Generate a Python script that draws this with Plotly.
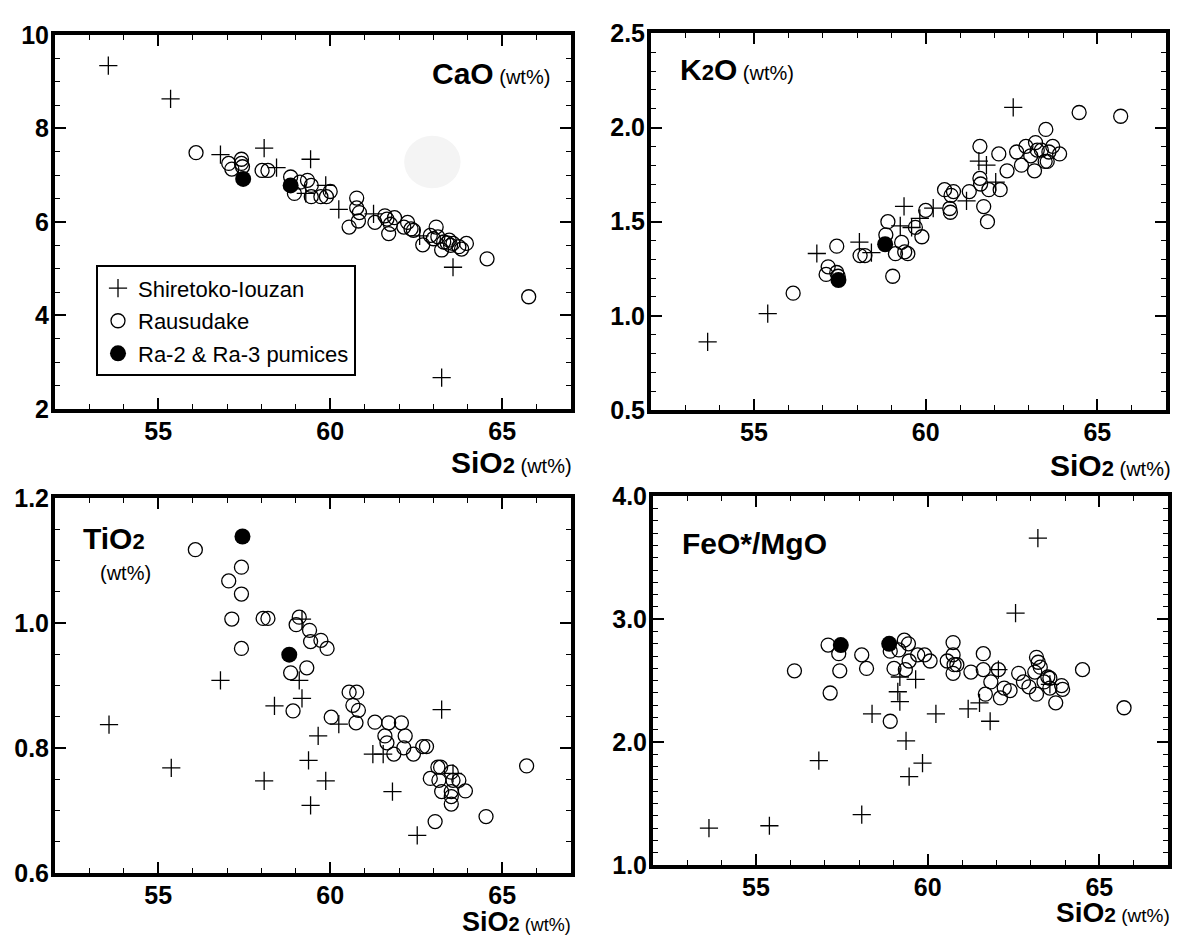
import plotly.graph_objects as go

FONT = "Liberation Sans, Arial, Helvetica, sans-serif"
W, H = 1187, 947

# ---------------- CaO panel ----------------
cao_shi_x = [53.55, 55.36, 56.81, 58.08, 58.44, 59.29, 59.43, 59.87, 60.25, 61.26,
             62.60, 63.57, 63.24]
cao_shi_y = [9.34, 8.63, 7.44, 7.58, 7.16, 6.61, 7.34, 6.78, 6.27, 6.17,
             5.70, 5.03, 2.67]
cao_rau_x = [56.10, 57.05, 57.14, 57.42, 57.42, 57.45, 58.02, 58.19, 58.85, 58.96,
             59.12, 59.34, 59.45, 59.45, 59.73, 59.89, 60.00, 60.77, 60.77, 60.82,
             60.55, 61.30, 61.59, 61.65, 61.70, 61.87, 62.14, 62.25, 62.42, 62.69,
             62.91, 63.08, 63.13, 63.24, 63.30, 63.46, 63.57, 63.74, 63.96, 63.40,
             63.50, 64.56, 65.77, 60.85, 61.75, 62.35, 63.00, 63.82]
cao_rau_y = [7.48, 7.25, 7.13, 7.34, 7.25, 7.18, 7.10, 7.10, 6.96, 6.61,
             6.85, 6.89, 6.78, 6.54, 6.54, 6.54, 6.65, 6.51, 6.30, 6.02,
             5.89, 5.99, 6.13, 6.06, 5.75, 6.09, 5.89, 5.99, 5.82, 5.51,
             5.71, 5.89, 5.68, 5.40, 5.57, 5.61, 5.54, 5.47, 5.54, 5.55,
             5.50, 5.21, 4.40, 6.20, 5.95, 5.85, 5.64, 5.42]
cao_pum_x = [57.47, 58.85]
cao_pum_y = [6.92, 6.78]

# ---------------- K2O panel ----------------
k2o_shi_x = [53.65, 55.40, 56.83, 58.07, 58.42, 59.37, 59.26, 59.59, 59.83, 60.22,
             61.19, 61.55, 61.77, 62.04, 62.55]
k2o_shi_y = [0.862, 1.012, 1.331, 1.391, 1.336, 1.581, 1.478, 1.469, 1.517, 1.572,
             1.610, 1.822, 1.800, 1.710, 2.107]
k2o_rau_x = [56.14, 57.10, 57.16, 57.41, 57.41, 57.45, 58.09, 58.23, 58.90, 58.84,
             59.04, 59.12, 59.30, 59.39, 59.48, 59.70, 59.89, 60.00, 60.55, 60.70,
             60.72, 60.74, 60.81, 61.27, 61.58, 61.58, 61.60, 61.69, 61.80, 61.84,
             62.13, 62.17, 62.37, 62.65, 62.79, 62.92, 63.06, 63.17, 63.20, 63.37,
             63.48, 63.50, 63.59, 63.70, 63.90, 63.25, 63.54, 64.47, 65.68]
k2o_rau_y = [1.12, 1.22, 1.26, 1.37, 1.23, 1.21, 1.32, 1.32, 1.50, 1.43,
             1.21, 1.33, 1.39, 1.34, 1.33, 1.47, 1.42, 1.56, 1.67, 1.57,
             1.55, 1.64, 1.66, 1.66, 1.90, 1.73, 1.70, 1.58, 1.50, 1.67,
             1.86, 1.67, 1.77, 1.87, 1.80, 1.90, 1.85, 1.77, 1.92, 1.88,
             1.82, 1.99, 1.87, 1.90, 1.86, 1.88, 1.82, 2.08, 2.06]
k2o_pum_x = [57.46, 58.82]
k2o_pum_y = [1.19, 1.38]

# ---------------- TiO2 panel ----------------
tio2_shi_x = [53.57, 55.38, 56.81, 58.08, 58.38, 59.10, 59.18, 59.18, 59.37, 59.43,
              59.65, 59.87, 60.25, 61.24, 61.54, 61.81, 62.53, 63.24, 63.57]
tio2_shi_y = [0.837, 0.768, 0.908, 0.747, 0.867, 0.908, 0.879, 1.006, 0.780, 0.708,
              0.819, 0.747, 0.838, 0.790, 0.790, 0.730, 0.660, 0.861, 0.759]
tio2_rau_x = [56.08, 57.42, 57.05, 57.42, 57.14, 57.42, 58.05, 58.19, 59.10, 59.01,
              59.40, 59.43, 59.73, 59.91, 59.32, 58.85, 58.92, 60.03, 60.55, 60.77,
              60.66, 60.82, 60.75, 61.30, 61.70, 62.07, 61.59, 61.65, 61.85, 62.18,
              62.14, 62.42, 62.69, 62.80, 62.91, 63.13, 63.21, 63.16, 63.24, 63.52,
              63.57, 63.74, 63.52, 63.52, 63.52, 63.93, 63.05, 64.53, 65.71]
tio2_rau_y = [1.117, 1.089, 1.067, 1.046, 1.006, 0.959, 1.007, 1.007, 1.009, 0.997,
              0.988, 0.970, 0.972, 0.959, 0.928, 0.920, 0.859, 0.849, 0.889, 0.889,
              0.868, 0.860, 0.840, 0.841, 0.840, 0.840, 0.819, 0.808, 0.790, 0.819,
              0.800, 0.790, 0.802, 0.802, 0.751, 0.769, 0.769, 0.748, 0.730, 0.761,
              0.748, 0.748, 0.730, 0.722, 0.710, 0.731, 0.682, 0.690, 0.771]
tio2_pum_x = [57.45, 58.81]
tio2_pum_y = [1.138, 0.949]

# ---------------- FeO*/MgO panel ----------------
fm_shi_x = [53.63, 55.39, 56.83, 58.08, 58.38, 59.13, 59.19, 59.19, 59.37, 59.46,
            59.65, 59.85, 60.24, 61.18, 61.51, 61.82, 62.06, 62.56, 63.21, 63.56]
fm_shi_y = [1.30, 1.32, 1.85, 1.41, 2.23, 2.41, 2.33, 2.53, 2.01, 1.72,
            2.51, 1.83, 2.23, 2.27, 2.32, 2.17, 2.59, 3.05, 3.66, 2.47]
fm_rau_x = [56.12, 57.10, 57.16, 57.41, 57.44, 58.08, 58.22, 58.91, 58.91, 59.02,
            59.16, 59.32, 59.44, 59.46, 59.35, 59.71, 59.91, 60.07, 60.57, 60.74,
            60.74, 60.77, 60.74, 60.85, 61.26, 61.62, 61.62, 61.68, 61.84, 62.06,
            62.12, 62.23, 62.40, 62.65, 62.79, 62.95, 63.17, 63.17, 63.12, 63.28,
            63.39, 63.50, 63.56, 63.73, 63.93, 63.22, 63.56, 63.90, 64.51, 65.72]
fm_rau_y = [2.58, 2.79, 2.40, 2.72, 2.58, 2.71, 2.60, 2.17, 2.74, 2.60,
            2.75, 2.83, 2.80, 2.66, 2.59, 2.71, 2.71, 2.66, 2.66, 2.81,
            2.71, 2.63, 2.56, 2.63, 2.57, 2.72, 2.59, 2.39, 2.49, 2.59,
            2.36, 2.44, 2.42, 2.56, 2.49, 2.45, 2.69, 2.39, 2.57, 2.61,
            2.49, 2.53, 2.44, 2.32, 2.43, 2.65, 2.52, 2.46, 2.59, 2.28]
fm_pum_x = [57.47, 58.88]
fm_pum_y = [2.79, 2.80]

series_names = ["Shiretoko-Iouzan", "Rausudake", "Ra-2 & Ra-3 pumices"]
x_range = [52, 67]

# panel frames in pixels: (left, right, top, bottom)
panels = [
    dict(n="", frame=(55, 571, 21.5, 407), yr=[2, 10], dt=2, mn=0.5, fmt="d",
         data=[(cao_shi_x, cao_shi_y), (cao_rau_x, cao_rau_y), (cao_pum_x, cao_pum_y)]),
    dict(n="2", frame=(651, 1166, 20, 408), yr=[0.5, 2.5], dt=0.5, mn=0.1, fmt=".1f",
         data=[(k2o_shi_x, k2o_shi_y), (k2o_rau_x, k2o_rau_y), (k2o_pum_x, k2o_pum_y)]),
    dict(n="3", frame=(55, 571, 498.5, 885), yr=[0.6, 1.2], dt=0.2, mn=0.05, fmt=".1f",
         data=[(tio2_shi_x, tio2_shi_y), (tio2_rau_x, tio2_rau_y), (tio2_pum_x, tio2_pum_y)]),
    dict(n="4", frame=(653, 1168, 497, 877), yr=[1.0, 4.0], dt=1.0, mn=0.1, fmt=".1f",
         data=[(fm_shi_x, fm_shi_y), (fm_rau_x, fm_rau_y), (fm_pum_x, fm_pum_y)]),
]

marker_styles = [
    dict(symbol="cross-thin", size=13, color="black", line=dict(width=1.3, color="black")),
    dict(symbol="circle-open", size=14, color="black", line=dict(width=1.3, color="black")),
    dict(symbol="circle", size=16, color="black", line=dict(width=0)),
]

fig = go.Figure()
layout = dict(
    width=W, height=H, margin=dict(l=0, r=0, t=0, b=0),
    paper_bgcolor="white", plot_bgcolor="white",
    font=dict(family=FONT, color="black"),
    showlegend=True,
)

tickfont = dict(family=FONT, size=25, color="black", weight="bold")
for i, p in enumerate(panels):
    l, r, t, b = p["frame"]
    xa = "xaxis" + p["n"]
    ya = "yaxis" + p["n"]
    xref = "x" + p["n"]
    yref = "y" + p["n"]
    common = dict(showline=True, linewidth=4, linecolor="black", mirror="ticks",
                  ticks="inside", ticklen=11, tickwidth=1.5, tickcolor="black",
                  showgrid=False, zeroline=False, tickfont=tickfont, fixedrange=True)
    layout[xa] = dict(domain=[l / W, r / W], range=x_range, anchor=yref,
                      tick0=55, dtick=5, ticklabelstandoff=-3,
                      minor=dict(dtick=1, ticks="inside", ticklen=5, tickwidth=1.2,
                                 tickcolor="black", showgrid=False),
                      **common)
    layout[ya] = dict(domain=[1 - b / H, 1 - t / H], range=p["yr"], anchor=xref,
                      tick0=p["yr"][0], dtick=p["dt"], tickformat=p["fmt"],
                      ticklabelstandoff=-3,
                      minor=dict(dtick=p["mn"], ticks="inside", ticklen=5, tickwidth=1.2,
                                 tickcolor="black", showgrid=False),
                      **common)
    for k, (xs, ys) in enumerate(p["data"]):
        fig.add_trace(go.Scatter(
            x=xs, y=ys, mode="markers", name=series_names[k],
            marker=marker_styles[k], xaxis=xref, yaxis=yref,
            showlegend=(i == 0), legendgroup=series_names[k], hoverinfo="skip"))

layout["legend"] = dict(
    x=96 / W, y=1 - 259 / H, xanchor="left", yanchor="top",
    bordercolor="black", borderwidth=2, bgcolor="white",
    font=dict(family=FONT, size=22, color="black"),
    tracegroupgap=1, itemwidth=30,
)

def sio2_label(sz):
    return ("<b>SiO<span style='font-size:%dpx'>2</span></b>"
            "<span style='font-size:%dpx'> (wt%%)</span>" % (round(sz * 0.74), round(sz * 0.67)))

ann = []
# axis titles (outside, paper coords)
for (rx, cy, sz) in [(573, 462, 30), (1172, 465, 30), (572, 936, 27), (1171, 926, 28)]:
    ann.append(dict(text=sio2_label(sz), xref="paper", yref="paper",
                    x=rx / W, y=1 - cy / H, xanchor="right", yanchor="middle",
                    showarrow=False, borderpad=0,
                    font=dict(family=FONT, size=sz, color="black")))
# panel labels (data coords)
ann.append(dict(text="<b>CaO</b><span style='font-size:20px'> (wt%)</span>",
                xref="x", yref="y", x=66.45, y=9.18, xanchor="right", yanchor="middle",
                showarrow=False, font=dict(family=FONT, size=30, color="black")))
ann.append(dict(text="<b>K<span style='font-size:22px'>2</span>O</b>"
                     "<span style='font-size:20px'> (wt%)</span>",
                xref="x2", yref="y2", x=52.8, y=2.31, xanchor="left", yanchor="middle",
                showarrow=False, font=dict(family=FONT, size=30, color="black")))
ann.append(dict(text="<b>TiO<span style='font-size:22px'>2</span></b>",
                xref="x3", yref="y3", x=52.75, y=1.135, xanchor="left", yanchor="middle",
                showarrow=False, font=dict(family=FONT, size=30, color="black")))
ann.append(dict(text="(wt%)",
                xref="x3", yref="y3", x=53.25, y=1.08, xanchor="left", yanchor="middle",
                showarrow=False, font=dict(family=FONT, size=20, color="black")))
ann.append(dict(text="<b>FeO*/MgO</b>",
                xref="x4", yref="y4", x=52.78, y=3.62, xanchor="left", yanchor="middle",
                showarrow=False, font=dict(family=FONT, size=30, color="black")))
layout["annotations"] = ann

# faint grey scan blot in the CaO panel
layout["shapes"] = [dict(type="circle", xref="x", yref="y", x0=62.15, x1=63.79,
                         y0=6.72, y1=7.84, fillcolor="#f4f4f4", line=dict(width=0),
                         layer="below")]

fig.update_layout(**layout)
fig.write_html("out.html", config={"displayModeBar": False},
               post_script="document.body.style.margin='0px';"
                           "document.body.style.overflow='hidden';")
